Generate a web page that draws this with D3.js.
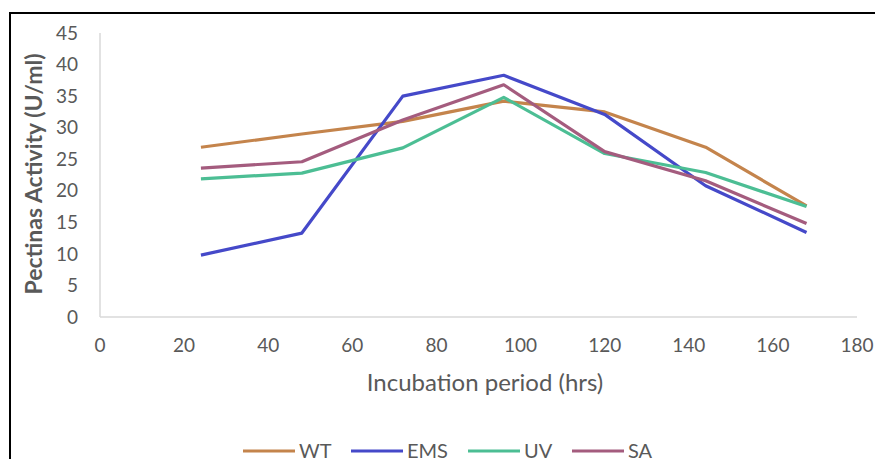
<!DOCTYPE html>
<meta charset="utf-8">
<style>
  body { margin: 0; background: #fff; }
  text { font-family: Lato, "Open Sans", sans-serif; fill: #595959; }
</style>
<svg width="875" height="459"></svg>
<script src="https://d3js.org/d3.v7.min.js"></script>
<script>

    var hours = [24, 48, 72, 96, 120, 144, 168];
    var seriesNames = ["WT", "EMS", "UV", "SA"];
    var wt  = [26.9, 29.0, 31.0, 34.2, 32.5, 26.9, 17.6];
    var ems = [9.8, 13.3, 35.0, 38.3, 32.1, 20.8, 13.4];
    var uv  = [21.9, 22.8, 26.8, 34.8, 25.9, 22.9, 17.5];
    var sa  = [23.6, 24.6, 31.2, 36.8, 26.2, 21.6, 14.8];
    var xTicks = [0, 20, 40, 60, 80, 100, 120, 140, 160, 180];
    var yTicks = [0, 5, 10, 15, 20, 25, 30, 35, 40, 45];
    var colors = ["#C4844C", "#4549C9", "#4CBE94", "#A45C7E"];

    var svg = d3.select("svg");
    var allSeries = [wt, ems, uv, sa];

    // outer frame (only top and left edges are visible in the crop)
    svg.append("rect")
        .attr("x", 10).attr("y", 13)
        .attr("width", 900).attr("height", 500)
        .attr("fill", "none")
        .attr("stroke", "#000")
        .attr("stroke-width", 2);

    var x = d3.scaleLinear().domain([0, 180]).range([100, 857]);
    var y = d3.scaleLinear().domain([0, 45]).range([317, 33]);

    // axes lines
    svg.append("line")
        .attr("x1", x(0)).attr("x2", x(0))
        .attr("y1", y(45)).attr("y2", y(0))
        .attr("stroke", "#d9d9d9").attr("stroke-width", 1.5);
    svg.append("line")
        .attr("x1", x(0)).attr("x2", x(180))
        .attr("y1", y(0)).attr("y2", y(0))
        .attr("stroke", "#d9d9d9").attr("stroke-width", 1.5);

    // tick labels
    svg.selectAll(".ytick").data(yTicks).enter().append("text")
        .attr("class", "ytick")
        .attr("x", 78)
        .attr("y", function(d) { return y(d); })
        .attr("dy", "0.35em")
        .attr("text-anchor", "end")
        .style("font-size", "19px")
        .text(function(d) { return d; });

    svg.selectAll(".xtick").data(xTicks).enter().append("text")
        .attr("class", "xtick")
        .attr("x", function(d) { return x(d); })
        .attr("y", 345)
        .attr("dy", "0.35em")
        .attr("text-anchor", "middle")
        .style("font-size", "19px")
        .text(function(d) { return d; });

    // axis titles
    svg.append("text")
        .attr("transform", "translate(34,174) rotate(-90)")
        .attr("dy", "0.35em")
        .attr("text-anchor", "middle")
        .style("font-size", "23px")
        .style("font-weight", "bold")
        .text("Pectinas Activity (U/ml)");

    svg.append("text")
        .attr("x", 485)
        .attr("y", 383)
        .attr("dy", "0.35em")
        .attr("text-anchor", "middle")
        .style("font-size", "24px")
        .text("Incubation period (hrs)");

    // lines
    var line = d3.line()
        .x(function(d, i) { return x(hours[i]); })
        .y(function(d) { return y(d); });

    svg.selectAll(".series").data(allSeries).enter().append("path")
        .attr("class", "series")
        .attr("d", line)
        .attr("fill", "none")
        .attr("stroke", function(d, i) { return colors[i]; })
        .attr("stroke-width", 3.2)
        .attr("stroke-linejoin", "round");

    // legend
    var legendX = [243, 351, 468, 572];
    var lg = svg.selectAll(".legend").data(seriesNames).enter().append("g")
        .attr("class", "legend")
        .attr("transform", function(d, i) { return "translate(" + legendX[i] + ",451)"; });
    lg.append("line")
        .attr("x1", 0).attr("x2", 52)
        .attr("stroke", function(d, i) { return colors[i]; })
        .attr("stroke-width", 3.2);
    lg.append("text")
        .attr("x", 56)
        .attr("dy", "0.35em")
        .style("font-size", "20px")
        .text(function(d) { return d; });
</script>
